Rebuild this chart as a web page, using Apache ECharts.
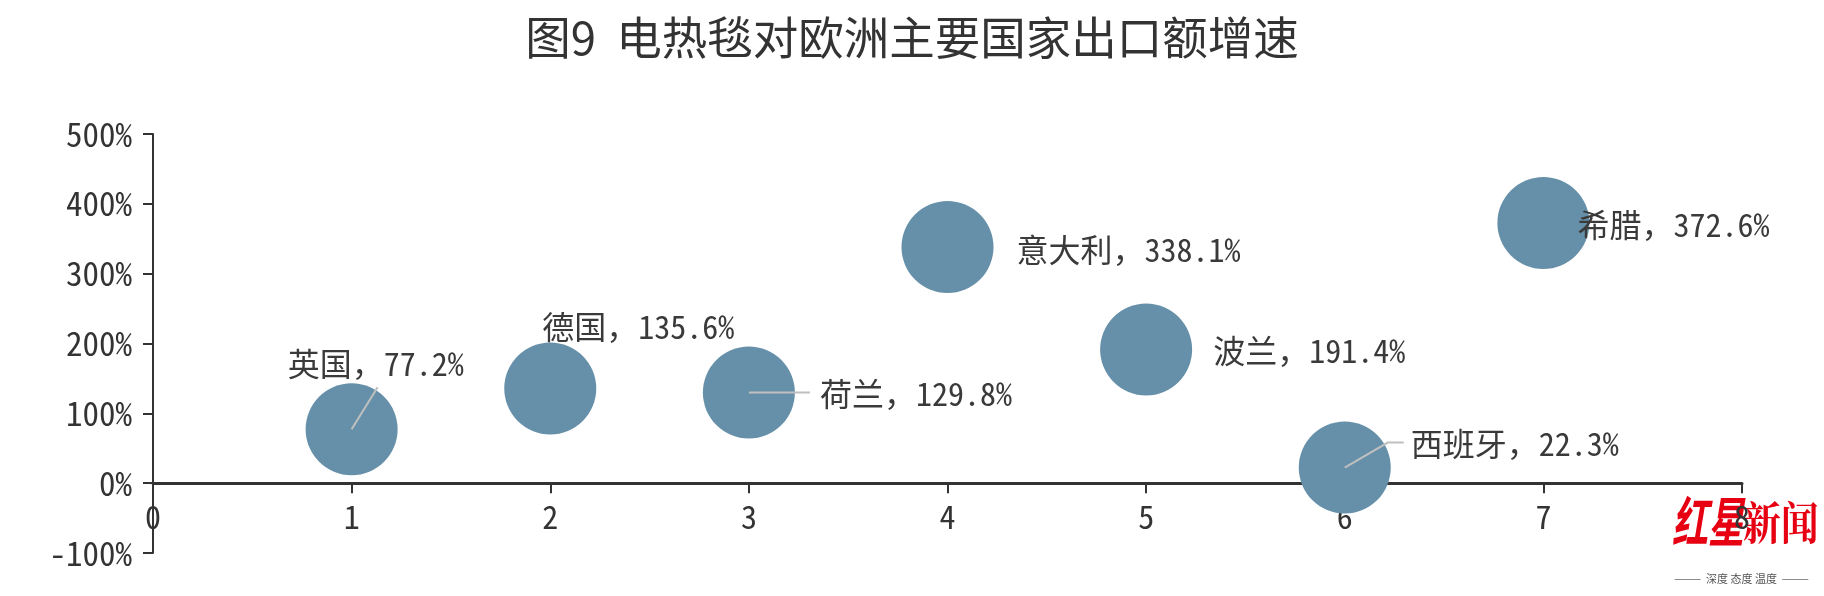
<!DOCTYPE html>
<html><head><meta charset="utf-8">
<script src="https://cdn.jsdelivr.net/npm/echarts@6/dist/echarts.min.js"></script>
<style>html,body{margin:0;padding:0;background:#fff}#chart{width:1824px;height:596px}</style>
</head><body><div id="chart"></div>
<script>
// ---- data ----
const countries = ['英国', '德国', '荷兰', '意大利', '波兰', '西班牙', '希腊'];
const xPositions = [1, 2, 3, 4, 5, 6, 7];
const growthRates = [77.2, 135.6, 129.8, 338.1, 191.4, 22.3, 372.6];
const xTicks = [0, 1, 2, 3, 4, 5, 6, 7, 8];
const yTicks = [-100, 0, 100, 200, 300, 400, 500];
const titleText = '图9  电热毯对欧洲主要国家出口额增速';

// ---- label styling (pixel offsets from bubble centre) ----
const labelOffsets = [[-64, -65], [-8, -62], [71, 1], [69, 3], [67, 1], [66, -24], [34, 2]];
const leaderPaths = [[[0, 0], [26, -42]], null, [[0, 0], [61, 0]], null, null, [[0, 0], [43, -25], [59, -25]], null];

const monoFont = '"Noto Sans Mono CJK SC", "Noto Sans CJK SC", sans-serif';
const chart = echarts.init(document.getElementById('chart'));
const points = xPositions.map((x, i) => [x, growthRates[i]]);

chart.setOption({
  animation: false,
  backgroundColor: '#fff',
  title: {
    text: titleText, left: 'center', top: 10, padding: [5, 12, 5, 0],
    textStyle: { fontSize: 45.5, fontWeight: 'normal', color: '#333', fontFamily: '"Noto Sans CJK SC", sans-serif' }
  },
  grid: { left: 153, right: 82, top: 134, bottom: 43, containLabel: false, outerBoundsMode: 'none' },
  xAxis: {
    type: 'value', min: xTicks[0], max: xTicks[xTicks.length - 1], interval: 1,
    splitLine: { show: false },
    axisLine: { show: true, onZero: false, lineStyle: { color: '#333', width: 3 } },
    axisTick: { show: true, length: 10, lineStyle: { color: '#333', width: 2 } },
    axisLabel: { fontSize: 32, color: '#333', margin: 18, fontFamily: monoFont }
  },
  yAxis: {
    type: 'value', min: yTicks[0], max: yTicks[yTicks.length - 1], interval: 100,
    splitLine: { show: false },
    axisLine: { show: true, lineStyle: { color: '#333', width: 2 } },
    axisTick: { show: true, length: 10, lineStyle: { color: '#333', width: 2 } },
    axisLabel: { fontSize: 33, color: '#333', margin: 21, fontFamily: monoFont, formatter: v => v + '%' }
  },
  series: [
    {
      type: 'scatter', symbol: 'circle', symbolSize: 92, z: 2,
      itemStyle: { color: '#6690a9', opacity: 1 },
      emphasis: { disabled: true },
      data: points.map((p, i) => ({ value: p, name: countries[i], label: { offset: labelOffsets[i] } })),
      label: {
        show: true, position: 'inside', align: 'left', verticalAlign: 'middle',
        fontSize: 32, color: '#3a3a3a', fontFamily: monoFont,
        formatter: p => p.name + '，' + p.value[1].toFixed(1) + '%'
      }
    },
    {
      type: 'custom', z: 5, silent: true,
      data: points,
      renderItem: (params, api) => {
        const pts = leaderPaths[params.dataIndex];
        if (!pts) return null;
        const c = api.coord([api.value(0), api.value(1)]);
        return {
          type: 'polyline',
          shape: { points: pts.map(p => [c[0] + p[0], c[1] + p[1]]) },
          style: { stroke: '#bfbfbf', lineWidth: 2, fill: null }
        };
      }
    }
  ],
  graphic: [
    { type: 'text', left: 1672, top: 494, scaleY: 1.5, style: { text: '红星', font: 'italic bold 36px "Noto Sans CJK SC"', fill: '#e60012' } },
    { type: 'text', left: 1743, top: 500, scaleY: 1.2, style: { text: '新闻', font: 'bold 38px "Noto Serif CJK SC", "Noto Sans CJK SC"', fill: '#e60012' } },
    { type: 'text', left: 1674, top: 573, style: { text: '———  深度 态度 温度  ———', font: '11px "Noto Sans CJK SC"', fill: '#555' } }
  ]
});

// place the x axis (line, ticks, labels) on the zero line of the y scale
const zeroY = chart.convertToPixel({ yAxisIndex: 0 }, 0);
const bottomY = chart.convertToPixel({ yAxisIndex: 0 }, yTicks[0]);
chart.setOption({ xAxis: { offset: zeroY - bottomY } });
</script></body></html>
